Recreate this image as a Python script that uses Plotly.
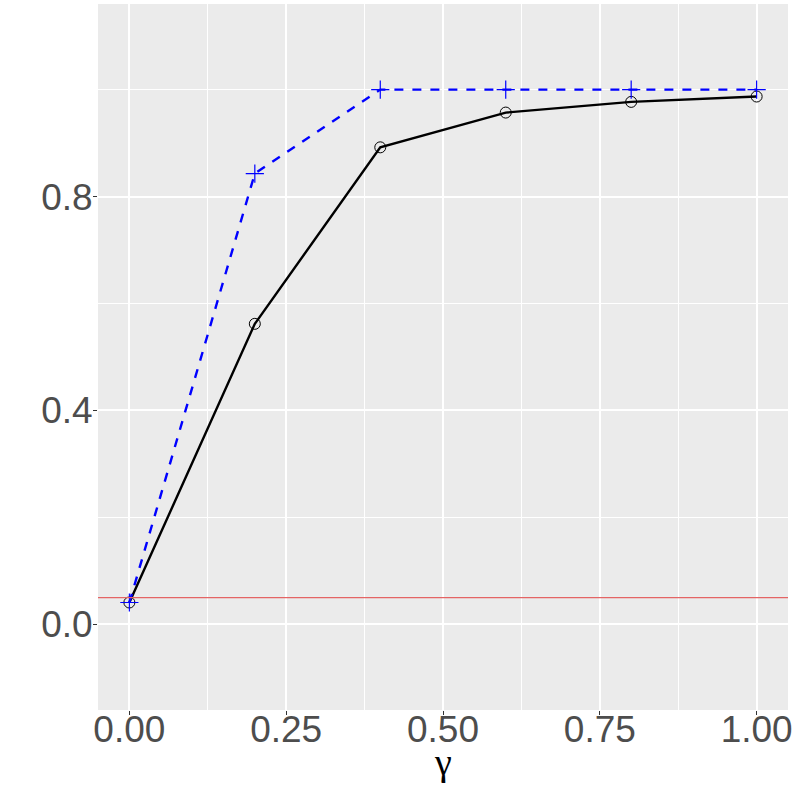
"""Power curves against gamma, ggplot-style panel."""

import plotly.graph_objects as go

gamma = [0.0, 0.2, 0.4, 0.6, 0.8, 1.0]
power_black = [0.041, 0.562, 0.892, 0.957, 0.977, 0.987]
power_blue = [0.041, 0.843, 1.0, 1.0, 1.0, 1.0]
nominal_level = 0.05

x_ticks = [0.0, 0.25, 0.5, 0.75, 1.0]
x_tick_labels = ["0.00", "0.25", "0.50", "0.75", "1.00"]
y_ticks = [0.0, 0.4, 0.8]
y_tick_labels = ["0.0", "0.4", "0.8"]

PANEL = "#EBEBEB"
TICK_FONT = {"family": "Liberation Sans", "size": 37, "color": "#4D4D4D"}

fig = go.Figure()
fig.add_trace(
    go.Scatter(
        x=gamma,
        y=power_black,
        mode="lines+markers",
        line={"color": "black", "width": 2.4},
        marker={
            "symbol": "circle-open",
            "size": 11,
            "color": "black",
            "line": {"width": 1, "color": "black"},
        },
        showlegend=False,
    )
)
fig.add_trace(
    go.Scatter(
        x=gamma,
        y=power_blue,
        mode="lines+markers",
        line={"color": "blue", "width": 2.4, "dash": "dash"},
        marker={
            "symbol": "cross-thin-open",
            "size": 13,
            "color": "blue",
            "line": {"width": 1.2, "color": "blue"},
        },
        showlegend=False,
    )
)
fig.add_hline(y=nominal_level, line_color="#E46464", line_width=1.3, layer="above")

fig.update_xaxes(
    range=[-0.05, 1.05],
    tickvals=x_ticks,
    ticktext=x_tick_labels,
    tickfont=TICK_FONT,
    ticklabeloverflow="allow",
    ticklabelstandoff=-17,
    ticks="outside",
    ticklen=4,
    tickwidth=1,
    tickcolor="#333333",
    showgrid=True,
    gridcolor="white",
    gridwidth=2,
    minor={"dtick": 0.125, "tick0": 0.125, "showgrid": True, "gridcolor": "white", "gridwidth": 1, "ticks": ""},
    zeroline=False,
    showline=False,
    automargin=False,
)
fig.update_yaxes(
    range=[-0.16, 1.16],
    tickvals=y_ticks,
    ticktext=y_tick_labels,
    tickfont=TICK_FONT,
    ticklabeloverflow="allow",
    ticklabelstandoff=-7,
    ticks="outside",
    ticklen=4,
    tickwidth=1,
    tickcolor="#333333",
    showgrid=True,
    gridcolor="white",
    gridwidth=2,
    minor={"dtick": 0.4, "tick0": 0.2, "showgrid": True, "gridcolor": "white", "gridwidth": 1, "ticks": ""},
    zeroline=False,
    showline=False,
    automargin=False,
)
fig.add_annotation(
    text="γ",
    xref="paper",
    yref="paper",
    x=0.5,
    y=-0.073,
    yanchor="middle",
    showarrow=False,
    font={"family": "Liberation Serif", "size": 38, "color": "black"},
)
fig.update_layout(
    width=793,
    height=793,
    margin={"l": 98, "r": 5, "t": 4, "b": 83, "autoexpand": False},
    plot_bgcolor=PANEL,
    paper_bgcolor="white",
)
# the page's default body margin would push the figure 8px off its frame
fig.write_html(
    "out.html",
    config={"displayModeBar": False},
    post_script="document.body.style.margin = '0';",
)
